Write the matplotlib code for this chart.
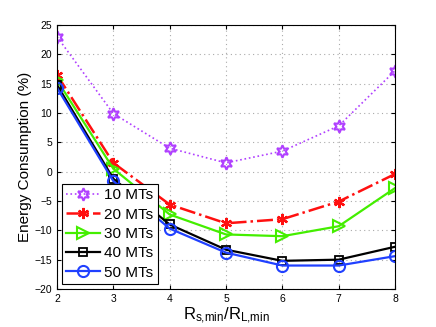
import matplotlib
matplotlib.use("Agg")
import matplotlib.pyplot as plt

plt.rcParams['font.family'] = ['Liberation Sans', 'DejaVu Sans']
plt.rcParams['mathtext.fontset'] = 'custom'
plt.rcParams['mathtext.rm'] = 'Liberation Sans'

ratio = [2, 3, 4, 5, 6, 7, 8]
mt10 = [23.0, 9.9, 4.0, 1.5, 3.5, 7.8, 17.2]
mt20 = [16.5, 1.5, -5.6, -8.8, -8.1, -5.1, -0.4]
mt30 = [15.6, 0.5, -7.3, -10.7, -11.0, -9.3, -2.8]
mt40 = [14.8, -1.2, -9.0, -13.3, -15.2, -15.0, -12.8]
mt50 = [14.3, -1.6, -9.7, -13.8, -16.0, -16.0, -14.4]
labels = ['10 MTs', '20 MTs', '30 MTs', '40 MTs', '50 MTs']

fig = plt.figure(figsize=(4.36, 3.27), dpi=100)
ax = fig.add_axes([57/436, 1 - 289/327, 338/436, 264/327])

ax.plot(ratio, mt10, color='#b040ff', linestyle=':', linewidth=1.2,
        marker=(6, 1, 0), markersize=9, markerfacecolor='none', markeredgewidth=1.5, label=labels[0])
ax.plot(ratio, mt20, color='#ff1010', linestyle='-.', linewidth=1.8,
        marker=(6, 2, 0), markersize=8, markeredgewidth=1.6, label=labels[1])
ax.plot(ratio, mt30, color='#44ee00', linestyle='-', linewidth=1.6,
        marker='>', markersize=9, markerfacecolor='none', markeredgewidth=1.5, label=labels[2])
ax.plot(ratio, mt40, color='black', linestyle='-', linewidth=1.6,
        marker='s', markersize=6, markerfacecolor='none', markeredgewidth=1.3, label=labels[3])
ax.plot(ratio, mt50, color='#2040ff', linestyle='-', linewidth=1.6,
        marker='o', markersize=8, markerfacecolor='none', markeredgewidth=1.5, label=labels[4])

ax.set_xlim(2, 8)
ax.set_ylim(-20, 25)
ax.set_xticks(ratio)
ax.set_yticks(range(-20, 26, 5))
ax.tick_params(direction='in', top=True, right=True, labelsize=7.5, length=3)
ax.grid(True, linestyle=(0, (1, 3)), color='#aaaaaa', linewidth=0.8)
ax.set_axisbelow(True)

ax.set_ylabel('Energy Consumption (%)', fontsize=11, labelpad=2)
ax.set_xlabel(r'$\mathregular{R_{s{,}min}/R_{L{,}min}}$', fontsize=12, labelpad=1)

leg = ax.legend(loc='lower left', fontsize=11, fancybox=False, framealpha=1,
                edgecolor='black', borderaxespad=0.3, handlelength=2.2,
                handletextpad=0.3, labelspacing=0.35, borderpad=0.3)
leg.get_frame().set_linewidth(0.8)

fig.savefig('out.png', dpi=100)
